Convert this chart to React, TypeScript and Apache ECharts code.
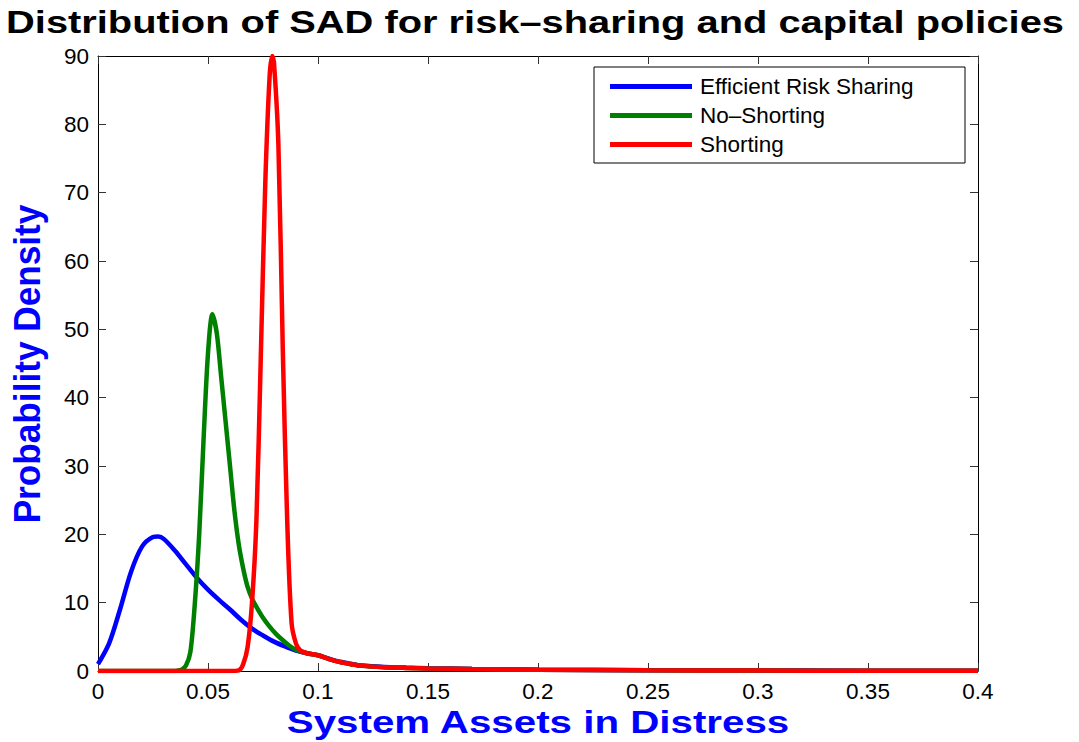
import React, { useEffect, useRef } from "react";
import * as echarts from "echarts";

const titleText = "Distribution of SAD for risk\u2013sharing and capital policies";
const xName = "System Assets in Distress";
const yName = "Probability Density";
const seriesNames = ["Efficient Risk Sharing", "No\u2013Shorting", "Shorting"];
const seriesColors = ["#0000ff", "#008000", "#ff0000"];

const blueX = [0, 0.005, 0.01, 0.015, 0.02, 0.025, 0.0275, 0.03, 0.035, 0.04, 0.045, 0.05, 0.055, 0.06, 0.065, 0.07, 0.075, 0.08, 0.085, 0.09, 0.095, 0.1, 0.105, 0.11, 0.115, 0.12, 0.13, 0.14, 0.15, 0.17, 0.2, 0.25, 0.3, 0.35, 0.4];
const blueY = [1.0, 4.0, 9.0, 14.5, 18.2, 19.6, 19.7, 19.3, 17.6, 15.6, 13.6, 11.9, 10.4, 9.0, 7.5, 6.2, 5.2, 4.3, 3.6, 3.0, 2.6, 2.3, 1.8, 1.35, 1.05, 0.8, 0.6, 0.5, 0.42, 0.3, 0.2, 0.12, 0.08, 0.05, 0.03];

const greenX = [0, 0.02, 0.034, 0.036, 0.038, 0.04, 0.042, 0.044, 0.046, 0.048, 0.05, 0.052, 0.054, 0.056, 0.058, 0.06, 0.062, 0.064, 0.066, 0.068, 0.07, 0.072, 0.075, 0.078, 0.081, 0.084, 0.087, 0.09, 0.095, 0.1, 0.105, 0.11, 0.115, 0.12, 0.13, 0.14, 0.15, 0.17, 0.2, 0.25, 0.3, 0.35, 0.4];
const greenY = [0, 0, 0, 0.05, 0.2, 0.8, 2.8, 9.8, 20, 34, 46.5, 52.2, 49.4, 43, 36.5, 30, 23.5, 18.5, 15, 12.3, 10.6, 9.4, 7.8, 6.5, 5.4, 4.5, 3.7, 3.1, 2.6, 2.3, 1.75, 1.3, 1.0, 0.75, 0.55, 0.45, 0.38, 0.28, 0.18, 0.1, 0.06, 0.04, 0.02];

const redX = [0, 0.03, 0.06, 0.064, 0.066, 0.068, 0.07, 0.072, 0.074, 0.076, 0.078, 0.0792, 0.08, 0.082, 0.084, 0.086, 0.088, 0.09, 0.092, 0.095, 0.1, 0.105, 0.11, 0.115, 0.12, 0.13, 0.14, 0.15, 0.17, 0.2, 0.25, 0.3, 0.35, 0.4];
const redY = [0, 0, 0, 0.1, 1.0, 3.5, 10, 22, 46, 71, 87, 90, 89, 77, 47, 22, 7, 4, 3.0, 2.6, 2.3, 1.75, 1.3, 1.0, 0.75, 0.55, 0.45, 0.38, 0.28, 0.18, 0.1, 0.06, 0.04, 0.02];

const xMin = 0;
const xMax = 0.4;
const xStep = 0.05;
const yMin = 0;
const yMax = 90;
const yStep = 10;

const FONT = '"Liberation Sans", Arial, Helvetica, sans-serif';

function pairs(xs: number[], ys: number[]) {
  return xs.map((x, i) => [x, ys[i]]);
}

export default function App() {
  const ref = useRef<HTMLDivElement>(null);
  useEffect(() => {
    const chart = echarts.init(ref.current!, null, { renderer: "svg" });
    const axisCommon = {
      axisLine: { show: true, onZero: false, lineStyle: { color: "#000", width: 1 } },
      axisTick: { show: true, inside: true, length: 8, lineStyle: { color: "#333", width: 1 } },
      splitLine: { show: false },
    };
    const xyData = [pairs(blueX, blueY), pairs(greenX, greenY), pairs(redX, redY)];
    chart.setOption({
      animation: false,
      backgroundColor: "#fff",
      grid: { left: 98, right: 101, top: 56, bottom: 71, containLabel: false },
      xAxis: [
        {
          type: "value",
          min: xMin,
          max: xMax,
          interval: xStep,
          position: "bottom",
          ...axisCommon,
          axisLabel: { color: "#000", fontSize: 22.5, fontFamily: FONT, margin: 9 },
        },
        {
          type: "value",
          min: xMin,
          max: xMax,
          interval: xStep,
          position: "top",
          ...axisCommon,
          axisLabel: { show: false },
        },
      ],
      yAxis: [
        {
          type: "value",
          min: yMin,
          max: yMax,
          interval: yStep,
          position: "left",
          ...axisCommon,
          axisLabel: { color: "#000", fontSize: 22.5, fontFamily: FONT, margin: 9 },
        },
        {
          type: "value",
          min: yMin,
          max: yMax,
          interval: yStep,
          position: "right",
          ...axisCommon,
          axisLabel: { show: false },
        },
      ],
      legend: {
        show: true,
        orient: "vertical",
        left: 594,
        top: 67,
        padding: [8, 10, 7, 16],
        icon: "rect",
        itemWidth: 82,
        itemHeight: 5,
        itemGap: 6,
        backgroundColor: "#fff",
        borderColor: "#000",
        borderWidth: 1,
        borderRadius: 0,
        data: seriesNames,
        textStyle: {
          color: "#000",
          fontSize: 22.5,
          fontFamily: FONT,
          lineHeight: 22,
          width: 255,
          padding: [0, 0, 0, 3],
        },
      },
      graphic: [
        {
          type: "text",
          x: 535,
          y: 22,
          scaleX: 1.245,
          style: {
            text: titleText,
            font: `bold 32px ${FONT}`,
            fill: "#000",
            textAlign: "center",
            textVerticalAlign: "middle",
          },
        },
        {
          type: "text",
          x: 538,
          y: 722,
          scaleX: 1.26,
          style: {
            text: xName,
            font: `bold 32px ${FONT}`,
            fill: "#0000ff",
            textAlign: "center",
            textVerticalAlign: "middle",
          },
        },
        {
          type: "text",
          x: 27,
          y: 364,
          rotation: Math.PI / 2,
          scaleX: 1.1,
          scaleY: 1.17,
          style: {
            text: yName,
            font: `bold 32px ${FONT}`,
            fill: "#0000ff",
            textAlign: "center",
            textVerticalAlign: "middle",
          },
        },
      ],
      series: seriesNames.map((name, i) => ({
        name,
        type: "line",
        xAxisIndex: 0,
        yAxisIndex: 0,
        data: xyData[i],
        symbol: "none",
        smooth: 0.3,
        clip: true,
        lineStyle: { color: seriesColors[i], width: 4.5 },
        itemStyle: { color: seriesColors[i] },
        z: 2 + i,
      })),
    });
    return () => chart.dispose();
  }, []);
  return (
    <div
      ref={ref}
      style={{ position: "fixed", left: 0, top: 0, width: 1079, height: 742, background: "#fff" }}
    />
  );
}
